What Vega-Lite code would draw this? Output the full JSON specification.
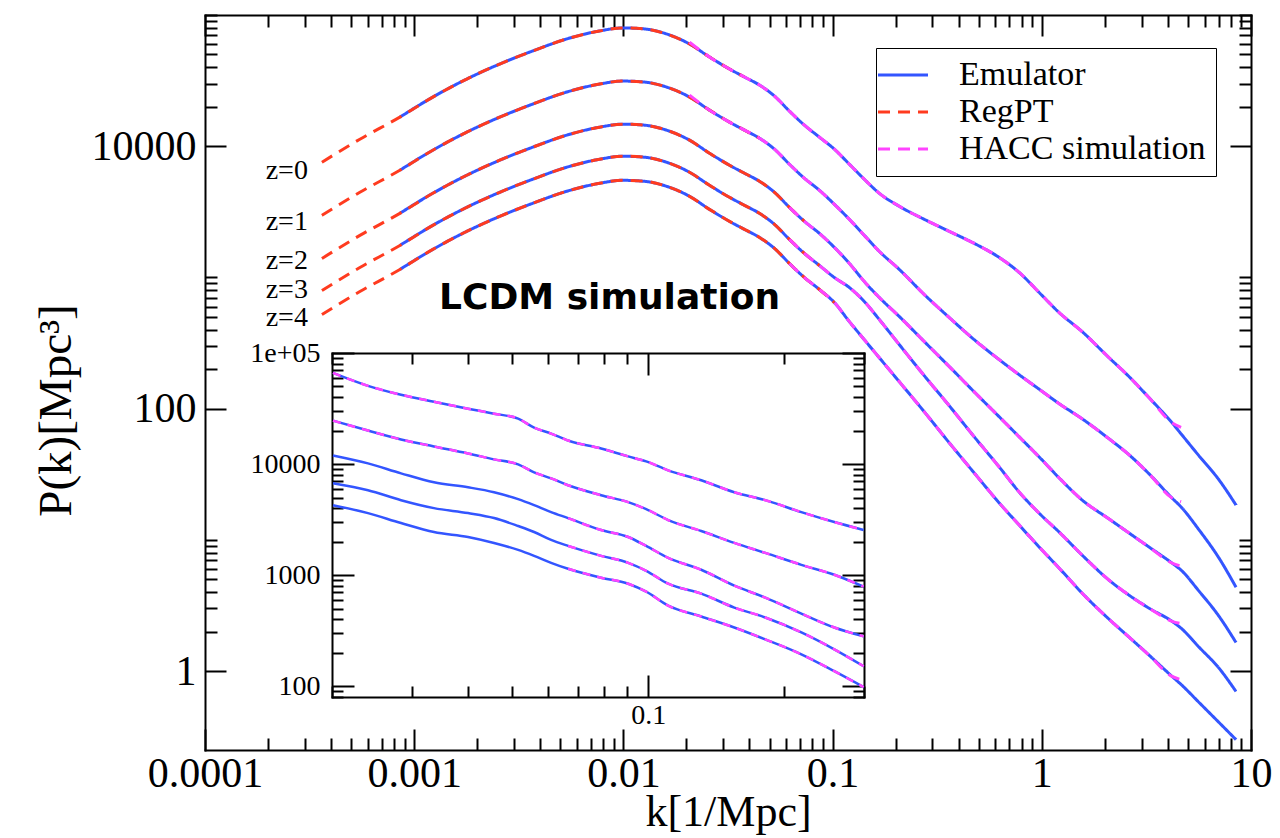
{
  "$schema": "https://vega.github.io/schema/vega-lite/v6.json",
  "width": 1046,
  "height": 735,
  "autosize": {"type": "none"},
  "padding": {"left": 205, "top": 15, "right": 29, "bottom": 88},
  "background": "white",
  "config": {
    "view": {"stroke": null},
    "line": {"interpolate": "monotone"},
    "axis": {
      "grid": false,
      "domainColor": "black",
      "domainWidth": 2,
      "domainCap": "square",
      "tickColor": "black",
      "tickWidth": 2,
      "labelColor": "black",
      "titleColor": "black",
      "labelFont": "Liberation Serif",
      "titleFont": "Liberation Serif",
      "titleFontWeight": "normal",
      "labelFlush": false,
      "labelOverlap": false,
      "labelBound": false
    }
  },
  "datasets": {
    "main": [
      {"z":0,"k":0.000362,"reg":7546},
      {"z":0,"k":0.00055,"reg":11310},
      {"z":0,"k":0.000854,"emu":16650,"reg":16650},
      {"z":0,"k":0.001227,"emu":23680,"reg":23680},
      {"z":0,"k":0.001783,"emu":32500,"reg":32500},
      {"z":0,"k":0.002563,"emu":42310,"reg":42310},
      {"z":0,"k":0.003684,"emu":53190,"reg":53190},
      {"z":0,"k":0.005355,"emu":65690,"reg":65690},
      {"z":0,"k":0.007696,"emu":75590,"reg":75590},
      {"z":0,"k":0.00991,"emu":79680,"reg":79680},
      {"z":0,"k":0.01262,"emu":78300,"reg":78300},
      {"z":0,"k":0.01608,"emu":71710,"reg":71710},
      {"z":0,"k":0.02071,"emu":60150,"reg":60150,"hacc":62000},
      {"z":0,"k":0.0258,"emu":47840,"reg":47840,"hacc":47840},
      {"z":0,"k":0.03215,"emu":38750,"reg":38750,"hacc":38750},
      {"z":0,"k":0.03792,"emu":33660,"reg":33660,"hacc":33660},
      {"z":0,"k":0.0447,"emu":29250,"hacc":29250},
      {"z":0,"k":0.05275,"emu":24100,"hacc":24100},
      {"z":0,"k":0.06218,"emu":18510,"hacc":18510},
      {"z":0,"k":0.07333,"emu":14470,"hacc":14470},
      {"z":0,"k":0.0865,"emu":11720,"hacc":11720},
      {"z":0,"k":0.102,"emu":9486,"hacc":9486},
      {"z":0,"k":0.1203,"emu":7285,"hacc":7285},
      {"z":0,"k":0.1418,"emu":5596,"hacc":5596},
      {"z":0,"k":0.1673,"emu":4375,"hacc":4375},
      {"z":0,"k":0.2085,"emu":3481,"hacc":3481},
      {"z":0,"k":0.2744,"emu":2769,"hacc":2769},
      {"z":0,"k":0.3613,"emu":2243,"hacc":2243},
      {"z":0,"k":0.4755,"emu":1816,"hacc":1816},
      {"z":0,"k":0.626,"emu":1419,"hacc":1419},
      {"z":0,"k":0.78,"emu":1090,"hacc":1090},
      {"z":0,"k":0.993,"emu":740,"hacc":740},
      {"z":0,"k":1.211,"emu":539,"hacc":539},
      {"z":0,"k":1.559,"emu":386,"hacc":386},
      {"z":0,"k":2.098,"emu":244,"hacc":244},
      {"z":0,"k":2.615,"emu":175,"hacc":175},
      {"z":0,"k":3.258,"emu":121,"hacc":121},
      {"z":0,"k":4.195,"emu":77.9,"hacc":77.9},
      {"z":0,"k":4.632,"emu":64.2,"hacc":72},
      {"z":0,"k":5.645,"emu":43.6},
      {"z":0,"k":7.035,"emu":28.6},
      {"z":0,"k":8.479,"emu":18.4},

      {"z":1,"k":0.000362,"reg":2971},
      {"z":1,"k":0.00055,"reg":4453},
      {"z":1,"k":0.000854,"emu":6555,"reg":6555},
      {"z":1,"k":0.001227,"emu":9323,"reg":9323},
      {"z":1,"k":0.001783,"emu":12795,"reg":12795},
      {"z":1,"k":0.002563,"emu":16657,"reg":16657},
      {"z":1,"k":0.003684,"emu":20941,"reg":20941},
      {"z":1,"k":0.005355,"emu":25862,"reg":25862},
      {"z":1,"k":0.007696,"emu":29760,"reg":29760},
      {"z":1,"k":0.00991,"emu":31370,"reg":31370},
      {"z":1,"k":0.01262,"emu":30827,"reg":30827},
      {"z":1,"k":0.01608,"emu":28232,"reg":28232},
      {"z":1,"k":0.02071,"emu":23681,"reg":23681,"hacc":24500},
      {"z":1,"k":0.0258,"emu":18835,"reg":18835,"hacc":18835},
      {"z":1,"k":0.03215,"emu":15256,"reg":15256,"hacc":15256},
      {"z":1,"k":0.03792,"emu":13252,"reg":13252,"hacc":13252},
      {"z":1,"k":0.0447,"emu":11516,"reg":11516,"hacc":11516},
      {"z":1,"k":0.05275,"emu":9488,"hacc":9488},
      {"z":1,"k":0.06218,"emu":7287,"hacc":7287},
      {"z":1,"k":0.07333,"emu":5697,"hacc":5697},
      {"z":1,"k":0.0865,"emu":4614,"hacc":4614},
      {"z":1,"k":0.102,"emu":3605,"hacc":3605},
      {"z":1,"k":0.1203,"emu":2769,"hacc":2769},
      {"z":1,"k":0.1418,"emu":2090,"hacc":2090},
      {"z":1,"k":0.1673,"emu":1577,"hacc":1577},
      {"z":1,"k":0.2085,"emu":1149,"hacc":1149},
      {"z":1,"k":0.2744,"emu":740,"hacc":740},
      {"z":1,"k":0.3613,"emu":494,"hacc":494},
      {"z":1,"k":0.4755,"emu":335,"hacc":335},
      {"z":1,"k":0.626,"emu":236,"hacc":236},
      {"z":1,"k":0.78,"emu":181,"hacc":181},
      {"z":1,"k":0.993,"emu":137,"hacc":137},
      {"z":1,"k":1.211,"emu":109,"hacc":109},
      {"z":1,"k":1.559,"emu":83.6,"hacc":83.6},
      {"z":1,"k":2.098,"emu":58.8,"hacc":58.8},
      {"z":1,"k":2.615,"emu":44.4,"hacc":44.4},
      {"z":1,"k":3.258,"emu":31.8,"hacc":31.8},
      {"z":1,"k":4.195,"emu":20.8,"hacc":20.8},
      {"z":1,"k":4.632,"emu":17.8,"hacc":19.5},
      {"z":1,"k":5.645,"emu":11.9},
      {"z":1,"k":7.035,"emu":7.25},
      {"z":1,"k":8.479,"emu":4.35},

      {"z":2,"k":0.000362,"reg":1394},
      {"z":2,"k":0.00055,"reg":2090},
      {"z":2,"k":0.000854,"emu":3077,"reg":3077},
      {"z":2,"k":0.001227,"emu":4376,"reg":4376},
      {"z":2,"k":0.001783,"emu":6005,"reg":6005},
      {"z":2,"k":0.002563,"emu":7818,"reg":7818},
      {"z":2,"k":0.003684,"emu":9828,"reg":9828},
      {"z":2,"k":0.005355,"emu":12138,"reg":12138},
      {"z":2,"k":0.007696,"emu":13967,"reg":13967},
      {"z":2,"k":0.00991,"emu":14723,"reg":14723},
      {"z":2,"k":0.01262,"emu":14468,"reg":14468},
      {"z":2,"k":0.01608,"emu":13251,"reg":13251},
      {"z":2,"k":0.02071,"emu":11115,"reg":11115},
      {"z":2,"k":0.0258,"emu":8840,"reg":8840},
      {"z":2,"k":0.03215,"emu":7160,"reg":7160},
      {"z":2,"k":0.03792,"emu":6220,"reg":6220},
      {"z":2,"k":0.0447,"emu":5405,"reg":5405},
      {"z":2,"k":0.05275,"emu":4453,"reg":4453},
      {"z":2,"k":0.06218,"emu":3420,"reg":3420,"hacc":3420},
      {"z":2,"k":0.07333,"emu":2674,"reg":2674,"hacc":2674},
      {"z":2,"k":0.0865,"emu":2166,"hacc":2166},
      {"z":2,"k":0.102,"emu":1692,"hacc":1692},
      {"z":2,"k":0.1203,"emu":1277,"hacc":1277},
      {"z":2,"k":0.1418,"emu":930,"hacc":930},
      {"z":2,"k":0.1673,"emu":702,"hacc":702},
      {"z":2,"k":0.2085,"emu":503,"hacc":503},
      {"z":2,"k":0.2744,"emu":324,"hacc":324},
      {"z":2,"k":0.3613,"emu":209,"hacc":209},
      {"z":2,"k":0.4755,"emu":134,"hacc":134},
      {"z":2,"k":0.626,"emu":86.6,"hacc":86.6},
      {"z":2,"k":0.78,"emu":60.9,"hacc":60.9},
      {"z":2,"k":0.993,"emu":41.3,"hacc":41.3},
      {"z":2,"k":1.211,"emu":29.6,"hacc":29.6},
      {"z":2,"k":1.559,"emu":20.1,"hacc":20.1},
      {"z":2,"k":2.098,"emu":14.4,"hacc":14.4},
      {"z":2,"k":2.615,"emu":11.25,"hacc":11.25},
      {"z":2,"k":3.258,"emu":8.8,"hacc":8.8},
      {"z":2,"k":4.195,"emu":6.64,"hacc":6.64},
      {"z":2,"k":4.632,"emu":5.87,"hacc":6.3},
      {"z":2,"k":5.645,"emu":4.06},
      {"z":2,"k":7.035,"emu":2.61},
      {"z":2,"k":8.479,"emu":1.65},

      {"z":3,"k":0.000362,"reg":794},
      {"z":3,"k":0.00055,"reg":1190},
      {"z":3,"k":0.000854,"emu":1752,"reg":1752},
      {"z":3,"k":0.001227,"emu":2492,"reg":2492},
      {"z":3,"k":0.001783,"emu":3420,"reg":3420},
      {"z":3,"k":0.002563,"emu":4453,"reg":4453},
      {"z":3,"k":0.003684,"emu":5598,"reg":5598},
      {"z":3,"k":0.005355,"emu":6913,"reg":6913},
      {"z":3,"k":0.007696,"emu":7955,"reg":7955},
      {"z":3,"k":0.00991,"emu":8386,"reg":8386},
      {"z":3,"k":0.01262,"emu":8240,"reg":8240},
      {"z":3,"k":0.01608,"emu":7547,"reg":7547},
      {"z":3,"k":0.02071,"emu":6330,"reg":6330},
      {"z":3,"k":0.0258,"emu":5035,"reg":5035},
      {"z":3,"k":0.03215,"emu":4078,"reg":4078},
      {"z":3,"k":0.03792,"emu":3542,"reg":3542},
      {"z":3,"k":0.0447,"emu":3078,"reg":3078},
      {"z":3,"k":0.05275,"emu":2536,"reg":2536},
      {"z":3,"k":0.06218,"emu":1948,"reg":1948,"hacc":1948},
      {"z":3,"k":0.07333,"emu":1523,"reg":1523,"hacc":1523},
      {"z":3,"k":0.0865,"emu":1233,"reg":1233,"hacc":1233},
      {"z":3,"k":0.102,"emu":998,"hacc":998},
      {"z":3,"k":0.1203,"emu":837,"hacc":837},
      {"z":3,"k":0.1418,"emu":655,"hacc":655},
      {"z":3,"k":0.1673,"emu":477,"hacc":477},
      {"z":3,"k":0.2085,"emu":307,"hacc":307},
      {"z":3,"k":0.2744,"emu":178,"hacc":178},
      {"z":3,"k":0.3613,"emu":105,"hacc":105},
      {"z":3,"k":0.4755,"emu":60.9,"hacc":60.9},
      {"z":3,"k":0.626,"emu":35.9,"hacc":35.9},
      {"z":3,"k":0.78,"emu":23.1,"hacc":23.1},
      {"z":3,"k":0.993,"emu":15.4,"hacc":15.4},
      {"z":3,"k":1.211,"emu":11.45,"hacc":11.45},
      {"z":3,"k":1.559,"emu":7.64,"hacc":7.64},
      {"z":3,"k":2.098,"emu":4.92,"hacc":4.92},
      {"z":3,"k":2.615,"emu":3.78,"hacc":3.78},
      {"z":3,"k":3.258,"emu":3.01,"hacc":3.01},
      {"z":3,"k":4.195,"emu":2.39,"hacc":2.39},
      {"z":3,"k":4.632,"emu":2.12,"hacc":2.3},
      {"z":3,"k":5.645,"emu":1.52},
      {"z":3,"k":7.035,"emu":1.05},
      {"z":3,"k":8.479,"emu":0.698},

      {"z":4,"k":0.000362,"reg":521},
      {"z":4,"k":0.00055,"reg":780},
      {"z":4,"k":0.000854,"emu":1149,"reg":1149},
      {"z":4,"k":0.001227,"emu":1634,"reg":1634},
      {"z":4,"k":0.001783,"emu":2242,"reg":2242},
      {"z":4,"k":0.002563,"emu":2919,"reg":2919},
      {"z":4,"k":0.003684,"emu":3670,"reg":3670},
      {"z":4,"k":0.005355,"emu":4532,"reg":4532},
      {"z":4,"k":0.007696,"emu":5215,"reg":5215},
      {"z":4,"k":0.00991,"emu":5497,"reg":5497},
      {"z":4,"k":0.01262,"emu":5402,"reg":5402},
      {"z":4,"k":0.01608,"emu":4947,"reg":4947},
      {"z":4,"k":0.02071,"emu":4150,"reg":4150},
      {"z":4,"k":0.0258,"emu":3300,"reg":3300},
      {"z":4,"k":0.03215,"emu":2673,"reg":2673},
      {"z":4,"k":0.03792,"emu":2322,"reg":2322},
      {"z":4,"k":0.0447,"emu":2018,"reg":2018},
      {"z":4,"k":0.05275,"emu":1663,"reg":1663},
      {"z":4,"k":0.06218,"emu":1277,"reg":1277,"hacc":1277},
      {"z":4,"k":0.07333,"emu":998,"reg":998,"hacc":998},
      {"z":4,"k":0.0865,"emu":809,"reg":809,"hacc":809},
      {"z":4,"k":0.102,"emu":643,"reg":643,"hacc":643},
      {"z":4,"k":0.1203,"emu":460,"hacc":460},
      {"z":4,"k":0.1418,"emu":335,"hacc":335},
      {"z":4,"k":0.1673,"emu":244,"hacc":244},
      {"z":4,"k":0.2085,"emu":160,"hacc":160},
      {"z":4,"k":0.2744,"emu":94.5,"hacc":94.5},
      {"z":4,"k":0.3613,"emu":54.8,"hacc":54.8},
      {"z":4,"k":0.4755,"emu":32.3,"hacc":32.3},
      {"z":4,"k":0.626,"emu":19.1,"hacc":19.1},
      {"z":4,"k":0.78,"emu":12.95,"hacc":12.95},
      {"z":4,"k":0.993,"emu":8.49,"hacc":8.49},
      {"z":4,"k":1.211,"emu":6.08,"hacc":6.08},
      {"z":4,"k":1.559,"emu":3.92,"hacc":3.92},
      {"z":4,"k":2.098,"emu":2.48,"hacc":2.48},
      {"z":4,"k":2.615,"emu":1.81,"hacc":1.81},
      {"z":4,"k":3.258,"emu":1.32,"hacc":1.32},
      {"z":4,"k":4.195,"emu":0.909,"hacc":0.909},
      {"z":4,"k":4.632,"emu":0.79,"hacc":0.86},
      {"z":4,"k":5.645,"emu":0.576},
      {"z":4,"k":7.035,"emu":0.405},
      {"z":4,"k":8.479,"emu":0.3}
    ],
    "inset": [
      {"z":0,"k":0.0201,"emu":66220,"hacc":66220},
      {"z":0,"k":0.02402,"emu":50640,"hacc":50640},
      {"z":0,"k":0.02842,"emu":42070,"hacc":42070},
      {"z":0,"k":0.03361,"emu":36420,"hacc":36420},
      {"z":0,"k":0.03997,"emu":31520,"hacc":31520},
      {"z":0,"k":0.04563,"emu":28440,"hacc":28440},
      {"z":0,"k":0.05158,"emu":25660,"hacc":25660},
      {"z":0,"k":0.05595,"emu":21310,"hacc":21310},
      {"z":0,"k":0.06101,"emu":18830,"hacc":18830},
      {"z":0,"k":0.06651,"emu":16300,"hacc":16300},
      {"z":0,"k":0.0787,"emu":13820,"hacc":13820},
      {"z":0,"k":0.09033,"emu":11720,"hacc":11720},
      {"z":0,"k":0.09899,"emu":10570,"hacc":10570},
      {"z":0,"k":0.1107,"emu":8781,"hacc":8781},
      {"z":0,"k":0.131,"emu":7145,"hacc":7145},
      {"z":0,"k":0.155,"emu":5580,"hacc":5580},
      {"z":0,"k":0.1815,"emu":4732,"hacc":4732},
      {"z":0,"k":0.2181,"emu":3695,"hacc":3695},
      {"z":0,"k":0.2579,"emu":3007,"hacc":3007},
      {"z":0,"k":0.2995,"emu":2549,"hacc":2549},

      {"z":1,"k":0.0201,"emu":24620,"hacc":24620},
      {"z":1,"k":0.02402,"emu":20030,"hacc":20030},
      {"z":1,"k":0.02842,"emu":16640,"hacc":16640},
      {"z":1,"k":0.03361,"emu":14400,"hacc":14400},
      {"z":1,"k":0.03997,"emu":12470,"hacc":12470},
      {"z":1,"k":0.04563,"emu":11020,"hacc":11020},
      {"z":1,"k":0.05158,"emu":9938,"hacc":9938},
      {"z":1,"k":0.05595,"emu":8426,"hacc":8426},
      {"z":1,"k":0.06101,"emu":7446,"hacc":7446},
      {"z":1,"k":0.06651,"emu":6447,"hacc":6447},
      {"z":1,"k":0.0787,"emu":5244,"hacc":5244},
      {"z":1,"k":0.09033,"emu":4541,"hacc":4541},
      {"z":1,"k":0.09899,"emu":3930,"hacc":3930},
      {"z":1,"k":0.1107,"emu":3134,"hacc":3134},
      {"z":1,"k":0.131,"emu":2497,"hacc":2497},
      {"z":1,"k":0.155,"emu":1950,"hacc":1950},
      {"z":1,"k":0.1815,"emu":1587,"hacc":1587},
      {"z":1,"k":0.2181,"emu":1239,"hacc":1239},
      {"z":1,"k":0.2579,"emu":1008,"hacc":1008},
      {"z":1,"k":0.2995,"emu":787,"hacc":787},

      {"z":2,"k":0.0201,"emu":11960},
      {"z":2,"k":0.02402,"emu":10140},
      {"z":2,"k":0.02842,"emu":8254},
      {"z":2,"k":0.03361,"emu":6857},
      {"z":2,"k":0.03997,"emu":6184},
      {"z":2,"k":0.04563,"emu":5580},
      {"z":2,"k":0.05158,"emu":4830},
      {"z":2,"k":0.05595,"emu":4268},
      {"z":2,"k":0.06101,"emu":3695},
      {"z":2,"k":0.06651,"emu":3265,"hacc":3265},
      {"z":2,"k":0.0787,"emu":2549,"hacc":2549},
      {"z":2,"k":0.09033,"emu":2207,"hacc":2207},
      {"z":2,"k":0.09899,"emu":1833,"hacc":1833},
      {"z":2,"k":0.1107,"emu":1431,"hacc":1431},
      {"z":2,"k":0.131,"emu":1118,"hacc":1118},
      {"z":2,"k":0.155,"emu":804,"hacc":804},
      {"z":2,"k":0.1815,"emu":628,"hacc":628},
      {"z":2,"k":0.2181,"emu":451,"hacc":451},
      {"z":2,"k":0.2579,"emu":338,"hacc":338},
      {"z":2,"k":0.2995,"emu":281,"hacc":281},

      {"z":3,"k":0.0201,"emu":6717},
      {"z":3,"k":0.02402,"emu":5815},
      {"z":3,"k":0.02842,"emu":4732},
      {"z":3,"k":0.03361,"emu":4012},
      {"z":3,"k":0.03997,"emu":3620},
      {"z":3,"k":0.04563,"emu":3265},
      {"z":3,"k":0.05158,"emu":2768},
      {"z":3,"k":0.05595,"emu":2446},
      {"z":3,"k":0.06101,"emu":2075},
      {"z":3,"k":0.06651,"emu":1833,"hacc":1833},
      {"z":3,"k":0.0787,"emu":1492,"hacc":1492},
      {"z":3,"k":0.09033,"emu":1291,"hacc":1291},
      {"z":3,"k":0.09899,"emu":1095,"hacc":1095},
      {"z":3,"k":0.1107,"emu":837.5,"hacc":837.5},
      {"z":3,"k":0.131,"emu":681.5,"hacc":681.5},
      {"z":3,"k":0.155,"emu":510.7,"hacc":510.7},
      {"z":3,"k":0.1815,"emu":415.6,"hacc":415.6},
      {"z":3,"k":0.2181,"emu":305,"hacc":305},
      {"z":3,"k":0.2579,"emu":214.8,"hacc":214.8},
      {"z":3,"k":0.2995,"emu":151.3,"hacc":151.3},

      {"z":4,"k":0.0201,"emu":4268},
      {"z":4,"k":0.02402,"emu":3620},
      {"z":4,"k":0.02842,"emu":2945},
      {"z":4,"k":0.03361,"emu":2446},
      {"z":4,"k":0.03997,"emu":2207},
      {"z":4,"k":0.04563,"emu":1950},
      {"z":4,"k":0.05158,"emu":1688},
      {"z":4,"k":0.05595,"emu":1492},
      {"z":4,"k":0.06101,"emu":1291},
      {"z":4,"k":0.06651,"emu":1141,"hacc":1141},
      {"z":4,"k":0.0787,"emu":947.7,"hacc":947.7},
      {"z":4,"k":0.09033,"emu":837.5,"hacc":837.5},
      {"z":4,"k":0.09899,"emu":710.1,"hacc":710.1},
      {"z":4,"k":0.1107,"emu":532.2,"hacc":532.2},
      {"z":4,"k":0.131,"emu":424.2,"hacc":424.2},
      {"z":4,"k":0.155,"emu":338,"hacc":338},
      {"z":4,"k":0.1815,"emu":264,"hacc":264},
      {"z":4,"k":0.2181,"emu":193.8,"hacc":193.8},
      {"z":4,"k":0.2579,"emu":136.5,"hacc":136.5},
      {"z":4,"k":0.2995,"emu":98.2,"hacc":98.2}
    ],
    "zlabels": [
      {"label":"z=0","k":0.0003103,"P":6443},
      {"label":"z=1","k":0.0003103,"P":2627},
      {"label":"z=2","k":0.0003103,"P":1323},
      {"label":"z=3","k":0.0003103,"P":808},
      {"label":"z=4","k":0.0003103,"P":494}
    ],
    "note": [
      {"label":"LCDM simulation","k":0.008592,"P":702}
    ]
  },
  "layer": [
    {
      "data": {"name": "main"},
      "transform": [{"filter": "isValid(datum.emu)"}],
      "mark": {"type": "line", "strokeWidth": 3},
      "encoding": {
        "x": {
          "field": "k", "type": "quantitative",
          "scale": {"type": "log", "domain": [0.0001, 10], "nice": false},
          "axis": {
            "orient": "bottom",
            "values": [0.0001,0.0002,0.0003,0.0004,0.0005,0.0006,0.0007,0.0008,0.0009,0.001,0.002,0.003,0.004,0.005,0.006,0.007,0.008,0.009,0.01,0.02,0.03,0.04,0.05,0.06,0.07,0.08,0.09,0.1,0.2,0.3,0.4,0.5,0.6,0.7,0.8,0.9,1,2,3,4,5,6,7,8,9,10],
            "labelExpr": "datum.value == 0.0001 ? '0.0001' : datum.value == 0.001 ? '0.001' : datum.value == 0.01 ? '0.01' : datum.value == 0.1 ? '0.1' : datum.value == 1 ? '1' : datum.value == 10 ? '10' : ''",
            "tickSize": {"condition": {"test": "indexof([0.0001,0.001,0.01,0.1,1,10], datum.value) >= 0", "value": -21}, "value": -12},
            "labelFontSize": 42,
            "labelPadding": 24,
            "title": "k[1/Mpc]",
            "titleFontSize": 44,
            "titleBaseline": "alphabetic",
            "titleY": 75
          }
        },
        "y": {
          "field": "emu", "type": "quantitative",
          "scale": {"type": "log", "domain": [0.25, 100000], "nice": false},
          "axis": {
            "orient": "left",
            "values": [1,2,3,4,5,6,7,8,9,10,100,200,300,400,500,600,700,800,900,1000,10000,20000,30000,40000,50000,60000,70000,80000,90000,100000],
            "labelExpr": "datum.value == 1 ? '1' : datum.value == 100 ? '100' : datum.value == 10000 ? '10000' : ''",
            "tickSize": {"condition": {"test": "indexof([1,100,10000], datum.value) >= 0", "value": -21}, "value": -12},
            "labelFontSize": 42,
            "labelPadding": 30,
            "title": "P(k)[Mpc³]",
            "titleFontSize": 47,
            "titleAngle": 270,
            "titleBaseline": "alphabetic",
            "titleAlign": "center",
            "titleX": -135,
            "titleY": 395
          }
        },
        "detail": {"field": "z", "type": "nominal"},
        "color": {
          "datum": "Emulator",
          "scale": {"domain": ["Emulator", "RegPT", "HACC simulation"], "range": ["#3355ff", "#ff3b1f", "#ff44ff"]},
          "legend": {
            "orient": "none", "legendX": 671, "legendY": 33,
            "title": null,
            "strokeColor": "black", "fillColor": "white",
            "padding": 10,
            "labelFont": "Liberation Serif", "labelFontSize": 34, "labelColor": "black",
            "symbolType": "M-2,0H2", "symbolSize": 625, "symbolStrokeWidth": 3,
            "labelOffset": 39, "rowPadding": 3, "labelLimit": 400
          }
        },
        "strokeDash": {
          "datum": "Emulator",
          "scale": {"domain": ["Emulator", "RegPT", "HACC simulation"], "range": [[1, 0], [12, 8], [12, 8]]}
        }
      }
    },
    {
      "data": {"name": "main"},
      "transform": [{"filter": "isValid(datum.reg)"}],
      "mark": {"type": "line", "strokeWidth": 3},
      "encoding": {
        "x": {
          "field": "k", "type": "quantitative",
          "scale": {"type": "log", "domain": [0.0001, 10], "nice": false},
          "axis": {
            "orient": "top",
            "values": [0.0001,0.0002,0.0003,0.0004,0.0005,0.0006,0.0007,0.0008,0.0009,0.001,0.002,0.003,0.004,0.005,0.006,0.007,0.008,0.009,0.01,0.02,0.03,0.04,0.05,0.06,0.07,0.08,0.09,0.1,0.2,0.3,0.4,0.5,0.6,0.7,0.8,0.9,1,2,3,4,5,6,7,8,9,10],
            "labels": false,
            "tickSize": {"condition": {"test": "indexof([0.0001,0.001,0.01,0.1,1,10], datum.value) >= 0", "value": -21}, "value": -12},
            "title": null
          }
        },
        "y": {
          "field": "reg", "type": "quantitative",
          "scale": {"type": "log", "domain": [0.25, 100000], "nice": false},
          "axis": {
            "orient": "right",
            "values": [1,2,3,4,5,6,7,8,9,10,100,200,300,400,500,600,700,800,900,1000,10000,20000,30000,40000,50000,60000,70000,80000,90000,100000],
            "labels": false,
            "tickSize": {"condition": {"test": "indexof([1,100,10000], datum.value) >= 0", "value": -21}, "value": -12},
            "title": null
          }
        },
        "detail": {"field": "z", "type": "nominal"},
        "color": {"datum": "RegPT", "scale": {"domain": ["Emulator", "RegPT", "HACC simulation"], "range": ["#3355ff", "#ff3b1f", "#ff44ff"]}},
        "strokeDash": {"datum": "RegPT", "scale": {"domain": ["Emulator", "RegPT", "HACC simulation"], "range": [[1, 0], [12, 8], [12, 8]]}}
      }
    },
    {
      "data": {"name": "main"},
      "transform": [{"filter": "isValid(datum.hacc)"}],
      "mark": {"type": "line", "strokeWidth": 3},
      "encoding": {
        "x": {"field": "k", "type": "quantitative", "scale": {"type": "log", "domain": [0.0001, 10], "nice": false}, "axis": null},
        "y": {"field": "hacc", "type": "quantitative", "scale": {"type": "log", "domain": [0.25, 100000], "nice": false}, "axis": null},
        "detail": {"field": "z", "type": "nominal"},
        "color": {"datum": "HACC simulation", "scale": {"domain": ["Emulator", "RegPT", "HACC simulation"], "range": ["#3355ff", "#ff3b1f", "#ff44ff"]}},
        "strokeDash": {"datum": "HACC simulation", "scale": {"domain": ["Emulator", "RegPT", "HACC simulation"], "range": [[1, 0], [12, 8], [12, 8]]}}
      }
    },
    {
      "data": {"name": "inset"},
      "transform": [{"filter": "isValid(datum.emu)"}],
      "mark": {"type": "line", "strokeWidth": 2.5},
      "encoding": {
        "x": {
          "field": "k", "type": "quantitative",
          "scale": {"type": "log", "domain": [0.02, 0.3], "range": [127, 659], "nice": false},
          "axis": {
            "orient": "bottom",
            "offset": -53,
            "values": [0.02,0.03,0.04,0.05,0.06,0.07,0.08,0.09,0.1,0.2,0.3],
            "labelExpr": "datum.value == 0.1 ? '0.1' : ''",
            "tickSize": {"condition": {"test": "datum.value == 0.1", "value": -22}, "value": -11},
            "labelFontSize": 28,
            "labelPadding": 26,
            "title": null
          }
        },
        "y": {
          "field": "emu", "type": "quantitative",
          "scale": {"type": "log", "domain": [80, 100000], "range": [682, 338], "nice": false},
          "axis": {
            "orient": "left",
            "offset": -127,
            "values": [80,90,100,200,300,400,500,600,700,800,900,1000,2000,3000,4000,5000,6000,7000,8000,9000,10000,20000,30000,40000,50000,60000,70000,80000,90000,100000],
            "labelExpr": "datum.value == 100 ? '100' : datum.value == 1000 ? '1000' : datum.value == 10000 ? '10000' : datum.value == 100000 ? '1e+05' : ''",
            "tickSize": {"condition": {"test": "indexof([100,1000,10000,100000], datum.value) >= 0", "value": -22}, "value": -11},
            "labelFontSize": 28,
            "labelPadding": 34,
            "title": null
          }
        },
        "detail": {"field": "z", "type": "nominal"},
        "color": {"datum": "Emulator", "scale": {"domain": ["Emulator", "RegPT", "HACC simulation"], "range": ["#3355ff", "#ff3b1f", "#ff44ff"]}}
      }
    },
    {
      "data": {"name": "inset"},
      "transform": [{"filter": "isValid(datum.hacc)"}],
      "mark": {"type": "line", "strokeWidth": 2.5, "strokeDash": [8, 7]},
      "encoding": {
        "x": {
          "field": "k", "type": "quantitative",
          "scale": {"type": "log", "domain": [0.02, 0.3], "range": [127, 659], "nice": false},
          "axis": {
            "orient": "top",
            "offset": -338,
            "values": [0.02,0.03,0.04,0.05,0.06,0.07,0.08,0.09,0.1,0.2,0.3],
            "labels": false,
            "tickSize": {"condition": {"test": "datum.value == 0.1", "value": -22}, "value": -11},
            "title": null
          }
        },
        "y": {
          "field": "hacc", "type": "quantitative",
          "scale": {"type": "log", "domain": [80, 100000], "range": [682, 338], "nice": false},
          "axis": {
            "orient": "right",
            "offset": -387,
            "values": [80,90,100,200,300,400,500,600,700,800,900,1000,2000,3000,4000,5000,6000,7000,8000,9000,10000,20000,30000,40000,50000,60000,70000,80000,90000,100000],
            "labels": false,
            "tickSize": {"condition": {"test": "indexof([100,1000,10000,100000], datum.value) >= 0", "value": -22}, "value": -11},
            "title": null
          }
        },
        "detail": {"field": "z", "type": "nominal"},
        "color": {"datum": "HACC simulation", "scale": {"domain": ["Emulator", "RegPT", "HACC simulation"], "range": ["#3355ff", "#ff3b1f", "#ff44ff"]}}
      }
    },
    {
      "data": {"name": "zlabels"},
      "mark": {"type": "text", "align": "right", "baseline": "middle", "font": "Liberation Serif", "fontSize": 28, "color": "black"},
      "encoding": {
        "x": {"field": "k", "type": "quantitative", "scale": {"type": "log", "domain": [0.0001, 10], "nice": false}, "axis": null},
        "y": {"field": "P", "type": "quantitative", "scale": {"type": "log", "domain": [0.25, 100000], "nice": false}, "axis": null},
        "text": {"field": "label"}
      }
    },
    {
      "data": {"name": "note"},
      "mark": {"type": "text", "align": "center", "baseline": "middle", "font": "DejaVu Sans", "fontWeight": "bold", "fontSize": 36, "color": "black"},
      "encoding": {
        "x": {"field": "k", "type": "quantitative", "scale": {"type": "log", "domain": [0.0001, 10], "nice": false}, "axis": null},
        "y": {"field": "P", "type": "quantitative", "scale": {"type": "log", "domain": [0.25, 100000], "nice": false}, "axis": null},
        "text": {"field": "label"}
      }
    }
  ],
  "resolve": {
    "scale": {"x": "independent", "y": "independent"},
    "axis": {"x": "independent", "y": "independent"}
  }
}
